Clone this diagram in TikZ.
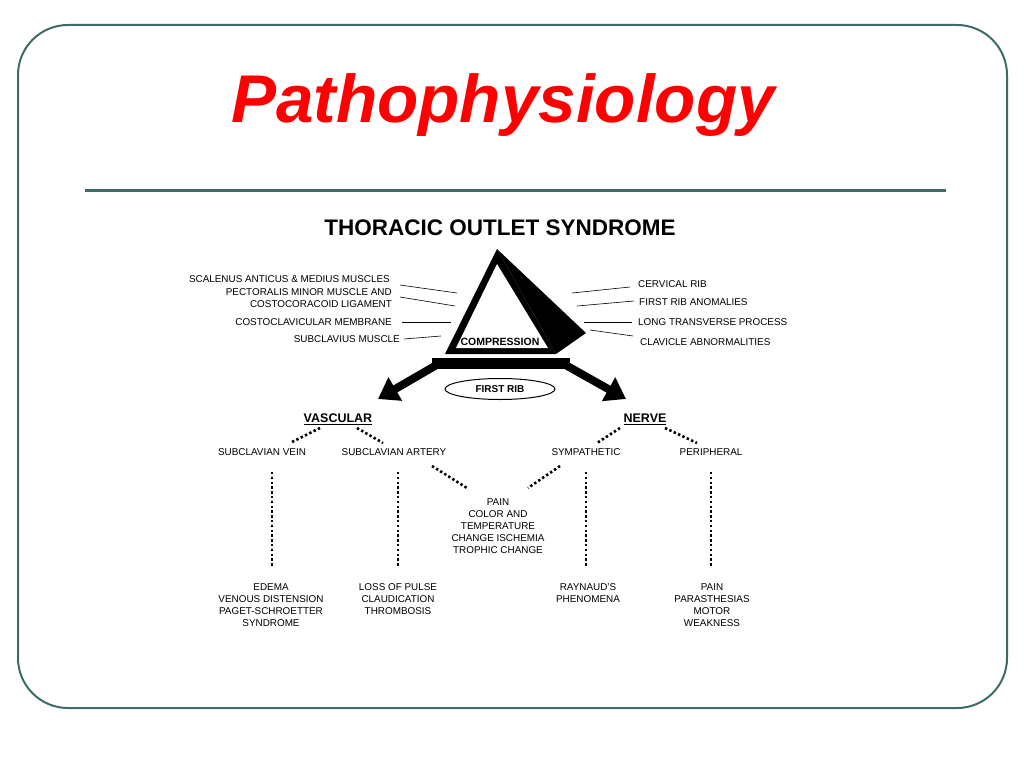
\documentclass[tikz,border=0pt]{standalone}
\usepackage{fontspec}
\setmainfont{Liberation Sans}
\usetikzlibrary{arrows.meta,shapes.geometric}
\definecolor{frame}{HTML}{3E6B68}
\begin{document}
\begin{tikzpicture}[x=1pt,y=-1pt,
  sm/.style={font=\fontsize{9.9}{12}\selectfont,inner sep=0pt,align=center},
  hd/.style={font=\bfseries\fontsize{12.5}{14}\selectfont,inner sep=1pt},
  dl/.style={line width=2.6pt,dash pattern=on 2.4pt off 2.4pt},
  ll/.style={line width=0.6pt},
  bigarr/.style={line width=8pt,-{Triangle[length=20pt,width=26pt]}}]
\useasboundingbox (0,0) rectangle (1024,768);
\draw[frame,line width=2pt,rounded corners=50pt] (18,25) rectangle (1007,708);
\draw[frame,line width=3pt] (85,190) -- (946,190);
\node (title) at (503,105) {\color{red}\bfseries\itshape\fontsize{67.5}{72}\selectfont Pathophysiology};
\node[font=\bfseries\fontsize{22.5}{25}\selectfont] (tos) at (500,228) {THORACIC OUTLET SYNDROME};
% triangle
\fill (497,249) -- (586,333) -- (556,354) -- cycle;
\fill (497,249) -- (445,354) -- (556,354) -- cycle;
\fill[white] (497,264) -- (456,348) -- (548,348) -- cycle;
\node[sm,font=\bfseries\fontsize{10.5}{12}\selectfont] (comp) at (500,342) {COMPRESSION};
\fill (432,358) rectangle (570,369);
\coordinate (bl) at (440,363); \coordinate (br) at (562,363);
\coordinate (al) at (378,399); \coordinate (ar) at (626,399);
\draw[bigarr] (bl) -- (al);
\draw[bigarr] (br) -- (ar);
\node[draw,ellipse,line width=1pt,minimum width=110pt,minimum height=21pt,inner sep=0pt,font=\bfseries\fontsize{10}{12}\selectfont] (rib) at (500,389) {FIRST RIB};
% left labels
\node[sm,anchor=east] (l1) at (390,279) {SCALENUS ANTICUS \& MEDIUS MUSCLES};
\node[sm,anchor=east,align=right] (l2) at (392,298) {PECTORALIS MINOR MUSCLE AND\\COSTOCORACOID LIGAMENT};
\node[sm,anchor=east] (l3) at (392,322) {COSTOCLAVICULAR MEMBRANE};
\node[sm,anchor=east] (l4) at (400,339) {SUBCLAVIUS MUSCLE};
\draw[ll] (400,285) -- (457,293);
\draw[ll] (400,297) -- (455,306);
\draw[ll] (402,322) -- (451,322);
\draw[ll] (404,339) -- (441,336);
% right labels
\node[sm,anchor=west] (r1) at (638,284) {CERVICAL RIB};
\node[sm,anchor=west] (r2) at (639,302) {FIRST RIB ANOMALIES};
\node[sm,anchor=west] (r3) at (638,322) {LONG TRANSVERSE PROCESS};
\node[sm,anchor=west] (r4) at (640,342) {CLAVICLE ABNORMALITIES};
\draw[ll] (572,293) -- (630,287);
\draw[ll] (577,306) -- (634,301);
\draw[ll] (584,322) -- (632,322);
\draw[ll] (590,330) -- (633,336);
% categories
\node[hd] (vas) at (338,419) {\underline{VASCULAR}};
\node[hd] (ner) at (645,419) {\underline{NERVE}};
\node[sm] (sv) at (262,452) {SUBCLAVIAN VEIN};
\node[sm] (sa) at (394,452) {SUBCLAVIAN ARTERY};
\node[sm] (sy) at (586,452) {SYMPATHETIC};
\node[sm] (pe) at (711,452) {PERIPHERAL};
\draw[dl] (320,428) -- (290,443);
\draw[dl] (357,428) -- (383,443);
\draw[dl] (620,428) -- (597,443);
\draw[dl] (665,428) -- (697,443);
\node[sm] (pain) at (498,526) {PAIN\\COLOR AND\\TEMPERATURE\\CHANGE ISCHEMIA\\TROPHIC CHANGE};
\draw[dl] (432,466) -- (467,488);
\draw[dl] (560,466) -- (528,488);
\draw[dl] (272,472) -- (272,566);
\draw[dl] (398,472) -- (398,566);
\draw[dl] (586,472) -- (586,566);
\draw[dl] (711,472) -- (711,566);
\node[sm,anchor=north] (b1) at (271,583) {EDEMA\\VENOUS DISTENSION\\PAGET-SCHROETTER\\SYNDROME};
\node[sm,anchor=north] (b2) at (398,583) {LOSS OF PULSE\\CLAUDICATION\\THROMBOSIS};
\node[sm,anchor=north] (b3) at (588,583) {RAYNAUD'S\\PHENOMENA};
\node[sm,anchor=north] (b4) at (712,583) {PAIN\\PARASTHESIAS\\MOTOR\\WEAKNESS};
\end{tikzpicture}
\end{document}
